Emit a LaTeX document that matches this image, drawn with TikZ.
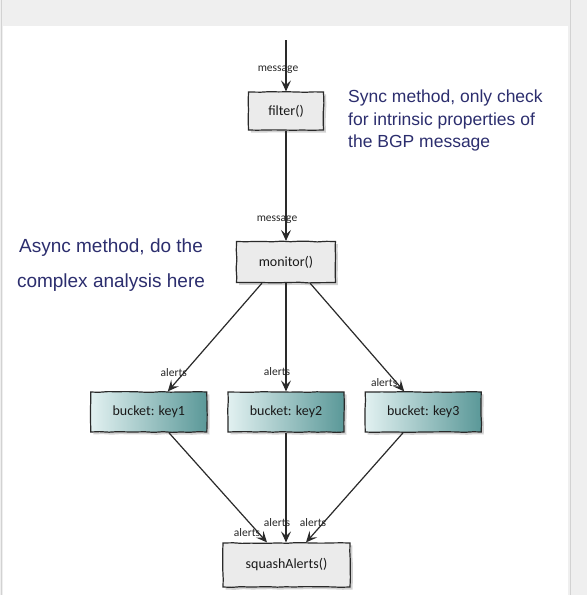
\documentclass[tikz,border=0pt]{standalone}
\usepackage{fontspec}
\setmainfont{Liberation Sans}
\newfontfamily\sketchfont{Carlito}
\usetikzlibrary{arrows.meta,positioning,calc,shadows,decorations.pathmorphing}
\definecolor{NoteNavy}{HTML}{2C2E6E}
\definecolor{FrameGray}{HTML}{EFEFEF}
\definecolor{FrameLine}{HTML}{D2D2D2}
\definecolor{BoxGray}{HTML}{EBEBEB}
\definecolor{BoxLine}{HTML}{2A2A2A}
\definecolor{TealLight}{HTML}{E2F1F1}
\definecolor{TealDark}{HTML}{5A9898}

\begin{document}
\begin{tikzpicture}[x=1pt,y=-1pt,
  block/.style={draw=BoxLine,line width=1.2pt,minimum height=40pt,inner sep=2pt,
    font=\sketchfont\fontsize{14}{16}\selectfont,text=black!90,
    drop shadow={shadow xshift=2.5pt,shadow yshift=-2.5pt,fill=black!35,opacity=0.5},
    decorate,decoration={random steps,segment length=9pt,amplitude=0.4pt}},
  plainb/.style={fill=BoxGray},
  bucketb/.style={left color=TealLight,right color=TealDark,minimum width=116pt},
  flow/.style={draw=BoxLine,line width=1.2pt,-{Stealth[length=11pt,width=10pt,inset=4.5pt]}},
  lbl/.style={font=\sketchfont\fontsize{11.5}{13}\selectfont,text=black!85,inner sep=0pt},
  note/.style={text=NoteNavy,inner sep=0pt},
]
\useasboundingbox (0,0) rectangle (587,595);
% frame of the page
\fill[FrameGray] (0,0) rectangle (587,595);
\fill[white] (3,26) rectangle (568,595);
\draw[FrameLine,line width=1pt] (1.5,0) -- (1.5,595);
\draw[FrameLine,line width=1.2pt] (570.5,0) -- (570.5,595);

% boxes
\node[block,plainb,minimum width=75pt,minimum height=38pt] (filter) at (286,111) {filter()};
\node[block,plainb,minimum width=99pt,minimum height=41pt] (monitor) at (286,262) {monitor()};
\node[block,bucketb] (key2) at (286,412) {bucket: key2};
\node[block,bucketb,left=20pt of key2] (key1) {bucket: key1};
\node[block,bucketb,right=20pt of key2] (key3) {bucket: key3};
\node[block,plainb,minimum width=127pt,minimum height=44pt] (squash) at (286.5,565) {squashAlerts()};

% notes
\node[note,anchor=north west,align=left,font=\fontsize{17.5}{22.5}\selectfont] (syncnote) at (348,90)
  {Sync method, only check\\for intrinsic properties of\\the BGP message};
\node[note,anchor=north,align=center,font=\fontsize{19}{35}\selectfont] (asyncnote) at (111,239)
  {Async method, do the\\complex analysis here};

% flow
\coordinate (msgin) at (286,40);
\draw[flow] (msgin) -- node[lbl,at end,xshift=-8pt,yshift=22pt] {message} (filter);
\draw[flow] (filter) -- node[lbl,at end,xshift=-9pt,yshift=21pt] {message} (monitor);
\draw[flow] ($(monitor.south)+(-24,0)$) -- node[lbl,at end,xshift=6pt,yshift=19pt] {alerts} ($(key1.north)+(19,0)$);
\draw[flow] (monitor) -- node[lbl,at end,xshift=-9pt,yshift=20pt] {alerts} (key2);
\draw[flow] ($(monitor.south)+(24,0)$) -- node[lbl,at end,xshift=-20pt,yshift=9pt] {alerts} ($(key3.north)+(-19,0)$);
\draw[flow] ($(key1.south)+(20,0)$) -- node[lbl,at end,xshift=-20pt,yshift=10pt] {alerts} ($(squash.north)+(-19.5,0)$);
\draw[flow] (key2.south) -- node[lbl,at end,xshift=-9pt,yshift=20pt] {alerts} (key2.south |- squash.north);
\draw[flow] ($(key3.south)+(-20,0)$) -- node[lbl,at end,xshift=7pt,yshift=20pt] {alerts} ($(squash.north)+(19.5,0)$);
\end{tikzpicture}
\end{document}
